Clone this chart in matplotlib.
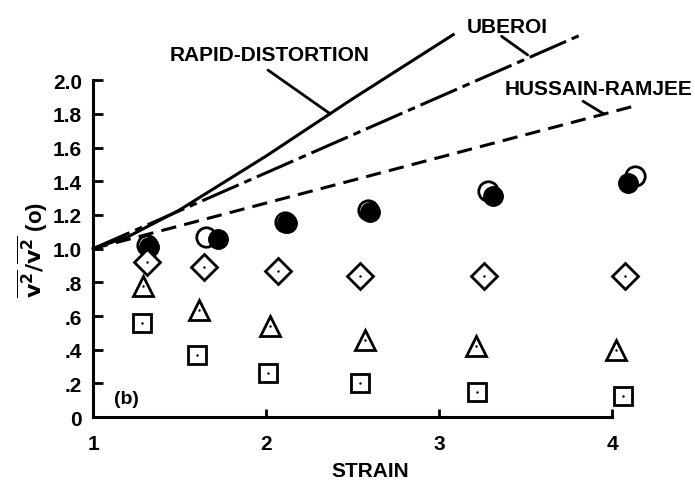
import matplotlib
matplotlib.use('Agg')
import matplotlib.pyplot as plt

plt.rcParams['font.family'] = ['Liberation Sans', 'DejaVu Sans']
plt.rcParams['font.weight'] = 'bold'
plt.rcParams['axes.labelweight'] = 'bold'

# theory curves
rapid_x = [1.0, 1.2, 1.5, 2.0, 2.5, 3.08]
rapid_y = [1.0, 1.07, 1.23, 1.55, 1.89, 2.27]
uberoi_x = [1.0, 3.82]
uberoi_y = [1.0, 2.27]
hussain_x = [1.0, 4.14]
hussain_y = [1.0, 1.85]

# measurements
filled_x = [1.32, 1.72, 2.12, 2.60, 3.31, 4.09]
filled_y = [1.01, 1.06, 1.15, 1.22, 1.31, 1.39]
open_x = [1.31, 1.65, 2.11, 2.59, 3.28, 4.13]
open_y = [1.02, 1.07, 1.16, 1.23, 1.34, 1.43]
diamond_x = [1.31, 1.64, 2.07, 2.54, 3.26, 4.07]
diamond_y = [0.92, 0.89, 0.87, 0.84, 0.84, 0.84]
triangle_x = [1.29, 1.61, 2.02, 2.57, 3.21, 4.02]
triangle_y = [0.78, 0.635, 0.54, 0.46, 0.42, 0.40]
square_x = [1.28, 1.60, 2.01, 2.54, 3.22, 4.06]
square_y = [0.56, 0.37, 0.26, 0.20, 0.15, 0.125]

y_ticks = [0, 0.2, 0.4, 0.6, 0.8, 1.0, 1.2, 1.4, 1.6, 1.8, 2.0]
y_labels = ['0', '.2', '.4', '.6', '.8', '1.0', '1.2', '1.4', '1.6', '1.8', '2.0']
x_ticks = [1, 2, 3, 4]

fig = plt.figure(figsize=(6.95, 4.89), dpi=100)
ax = fig.add_axes([0.134, 0.145, 0.797, 0.689])

ax.plot(rapid_x, rapid_y, color='black', lw=2.2, clip_on=False)
ax.plot(uberoi_x, uberoi_y, color='black', lw=2.2, dashes=(13, 2, 2.5, 2), clip_on=False)
ax.plot(hussain_x, hussain_y, color='black', lw=2.2, dashes=(5, 2.7), clip_on=False)

ax.plot(open_x, open_y, 'o', ms=14, mfc='white', mec='black', mew=2, clip_on=False)
ax.plot(filled_x, filled_y, 'o', ms=14, mfc='black', mec='black', clip_on=False)
ax.plot(diamond_x, diamond_y, 'D', ms=13, mfc='white', mec='black', mew=2)
ax.plot(triangle_x, triangle_y, '^', ms=14, mfc='white', mec='black', mew=2)
ax.plot(square_x, square_y, 's', ms=12.5, mfc='white', mec='black', mew=2)
for xs, ys in [(diamond_x, diamond_y), (triangle_x, triangle_y), (square_x, square_y)]:
    ax.plot(xs, ys, '.', ms=1.5, color='black')

ax.set_xlim(1, 4.2)
ax.set_ylim(0, 2.0)
for s in ['top', 'right']:
    ax.spines[s].set_visible(False)
ax.spines['left'].set_linewidth(2.2)
ax.spines['bottom'].set_linewidth(2.2)
ax.spines['bottom'].set_bounds(1, 4)
ax.spines['left'].set_bounds(0, 2.0)

ax.set_yticks(y_ticks)
ax.set_yticklabels(y_labels)
ax.set_xticks(x_ticks)
ax.tick_params(axis='y', direction='in', length=7, width=2, labelsize=15, pad=8)
ax.tick_params(axis='x', direction='in', length=6, width=2, labelsize=15, pad=12)

ax.set_xlabel('STRAIN', fontsize=15, labelpad=6)
ax.set_ylabel(r'$\overline{\mathbf{v}^\mathbf{2}}/\overline{\mathbf{v}^\mathbf{2}}$ (o)',
              fontsize=16, labelpad=2)

ax.text(1.19, 0.11, '(b)', fontsize=14, ha='center', va='center')

# labels and leader lines
lead = dict(arrowstyle='-', lw=2, color='black', shrinkA=0, shrinkB=0)
ax.text(2.02, 2.15, 'RAPID-DISTORTION', fontsize=15, ha='center', va='center', clip_on=False)
ax.annotate('', xy=(2.37, 1.80), xytext=(2.01, 2.06), annotation_clip=False, arrowprops=lead)
ax.text(3.39, 2.32, 'UBEROI', fontsize=15, ha='center', va='center', clip_on=False)
ax.annotate('', xy=(3.51, 2.15), xytext=(3.36, 2.26), annotation_clip=False, arrowprops=lead)
ax.text(4.46, 1.95, 'HUSSAIN-RAMJEE', fontsize=15, ha='right', va='center', clip_on=False)
ax.annotate('', xy=(3.95, 1.80), xytext=(3.83, 1.875), annotation_clip=False, arrowprops=lead)

fig.savefig('out.png', dpi=100)
